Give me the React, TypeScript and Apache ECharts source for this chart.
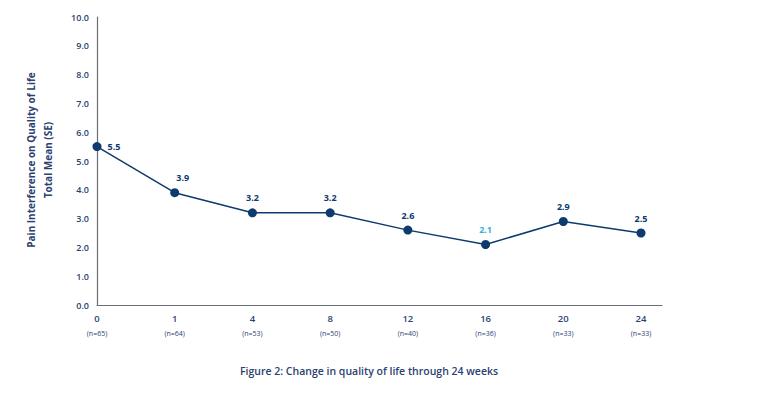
import React, { useEffect, useRef } from "react";
import * as echarts from "echarts";

const weeks = ["0", "1", "4", "8", "12", "16", "20", "24"];
const sampleSizes = ["(n=65)", "(n=64)", "(n=53)", "(n=50)", "(n=40)", "(n=36)", "(n=33)", "(n=33)"];
const meanValues = [5.5, 3.9, 3.2, 3.2, 2.6, 2.1, 2.9, 2.5];
const yTicks = [0, 1, 2, 3, 4, 5, 6, 7, 8, 9, 10];

const NAVY = "#0d3b6e";
const TEXT = "#2b3f72";
const FONT = "'Open Sans', 'Noto Sans', sans-serif";

export default function App() {
  const ref = useRef<HTMLDivElement>(null);
  useEffect(() => {
    document.body.style.margin = "0";
    if (!ref.current) return;
    const chart = echarts.init(ref.current, null, { renderer: "svg" });
    const data = meanValues.map((v, i) => {
      const item: any = { value: [i, v] };
      if (i === 0) {
        item.label = { position: "right", distance: 6 };
      } else if (i === 1) {
        item.label = { position: "top", offset: [8, 0] };
      } else if (i === 5) {
        item.label = { color: "#3aaee0" };
      }
      return item;
    });
    chart.setOption({
      animation: false,
      backgroundColor: "#ffffff",
      grid: { left: 97, right: 98, top: 17, bottom: 92, containLabel: false },
      xAxis: {
        type: "value",
        min: 0,
        max: 7.27,
        interval: 1,
        splitLine: { show: false },
        axisTick: { show: false },
        axisLine: { show: true, lineStyle: { color: "#6b6f78", width: 1.2 } },
        axisLabel: {
          margin: 7,
          formatter: (v: number) => {
            const i = Math.round(v);
            if (Math.abs(v - i) > 1e-6 || i < 0 || i >= weeks.length) return "";
            return `{w|${weeks[i]}}\n{n|${sampleSizes[i]}}`;
          },
          rich: {
            w: { fontSize: 9.5, fontWeight: 600, color: TEXT, fontFamily: FONT, lineHeight: 14, padding: [0, 0, 2, 0] },
            n: { fontSize: 7, color: TEXT, fontFamily: FONT, lineHeight: 14 },
          },
        },
      },
      yAxis: {
        type: "value",
        min: yTicks[0],
        max: yTicks[yTicks.length - 1],
        interval: 1,
        splitLine: { show: false },
        axisTick: { show: false },
        axisLine: { show: true, lineStyle: { color: "#6b6f78", width: 1.2 } },
        axisLabel: {
          margin: 8,
          color: TEXT,
          fontSize: 9,
          fontWeight: 600,
          fontFamily: FONT,
          padding: [0, 0, 5, 0],
          formatter: (v: number) => v.toFixed(1),
        },
      },
      series: [
        {
          type: "line",
          data,
          symbol: "circle",
          symbolSize: 9,
          lineStyle: { color: NAVY, width: 1.5 },
          itemStyle: { color: NAVY },
          label: {
            show: true,
            position: "top",
            distance: 6,
            color: NAVY,
            fontSize: 9,
            fontWeight: "bold",
            fontFamily: FONT,
            formatter: (p: any) => p.value[1].toFixed(1),
          },
        },
      ],
      graphic: [
        {
          type: "text",
          x: 39,
          y: 160,
          rotation: Math.PI / 2,
          style: {
            text: "Pain Interference on Quality of Life\nTotal Mean (SE)",
            fill: TEXT,
            font: `bold 10px ${FONT}`,
            textAlign: "center",
            textVerticalAlign: "middle",
            lineHeight: 17,
          },
        },
        {
          type: "text",
          x: 369,
          y: 371,
          style: {
            text: "Figure 2: Change in quality of life through 24 weeks",
            fill: TEXT,
            font: `600 10.5px ${FONT}`,
            textAlign: "center",
            textVerticalAlign: "middle",
          },
        },
      ],
    });
    return () => chart.dispose();
  }, []);
  return <div ref={ref} style={{ width: 760, height: 397 }} />;
}
